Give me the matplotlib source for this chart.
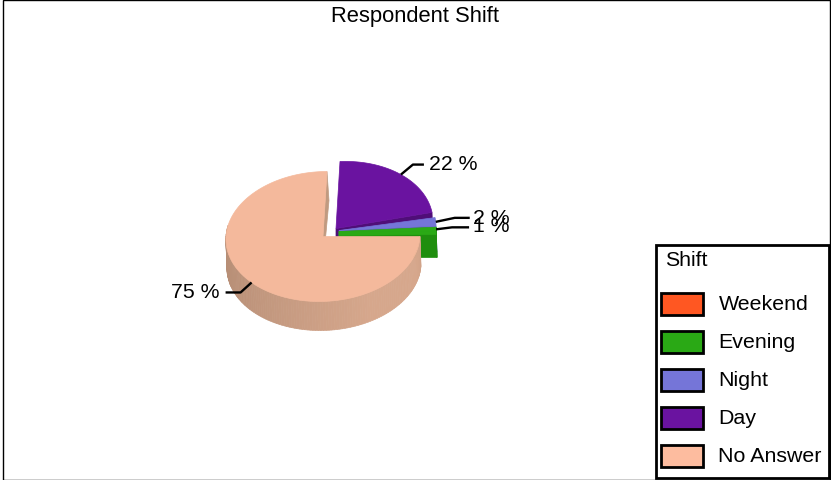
import numpy as np
import matplotlib
matplotlib.use('Agg')
import matplotlib.pyplot as plt
from matplotlib.patches import Polygon, Rectangle

plt.rcParams['font.family'] = ['Liberation Sans', 'DejaVu Sans']

title = 'Respondent Shift'
legend_title = 'Shift'
shifts = ['Weekend', 'Evening', 'Night', 'Day', 'No Answer']
percents = [0, 1, 2, 22, 75]
legend_colors = ['#ff5722', '#2aa915', '#7575d8', '#6a13a0', '#fdbc9f']
top_colors = ['#ff5722', '#2aa915', '#7575d8', '#6a13a0', '#f4b99c']
side_colors = ['#c9431a', '#1f8e0e', '#5a5ab0', '#4f0e78', '#c09a80']

# pie placement in pixels: centre x, centre y, rx, ry, depth, lift of the right side
place = {'Evening': (339, 232.5, 97, 69, 26, 0),
         'Night': (339, 231.5, 97, 69, 26, 0),
         'Day': (336, 229.5, 97, 67, 29, 3.6),
         'No Answer': (323, 237.5, 97, 65, 29, 0)}
skew = 4
# leader line: elbow offset from the rim, elbow length
leaders = {'Evening': (16, -2, 17), 'Night': (19, -4, 15),
           'Day': (12, -10, 11), 'No Answer': (-11, 10, -15)}
label_shift = {'Evening': (4, -2), 'Night': (3, 0), 'Day': (5, -1), 'No Answer': (-6, -1)}

fig = plt.figure(figsize=(8.31, 4.81), dpi=100)
ax = fig.add_axes([0, 0, 1, 1])
ax.set_xlim(0, 831)
ax.set_ylim(481, 0)
ax.axis('off')


def rim(name, t):
    cx, cy, rx, ry, d, lift = place[name]
    t = np.radians(t)
    return cx + rx*np.cos(t) + skew*np.sin(t), cy - ry*np.sin(t) - lift*np.cos(t)


def wedge(name, t0, t1):
    cx, cy = place[name][:2]
    ts = np.linspace(t0, t1, 200)
    x, y = rim(name, ts)
    return np.column_stack([np.r_[cx, x], np.r_[cy, y]])


def cut_face(name, t, color, z, bottom_dx=1):
    cx, cy, rx, ry, d, lift = place[name]
    x, y = rim(name, t)
    pts = [(cx, cy), (x, y), (x + bottom_dx, y + d), (cx, cy + d)]
    ax.add_patch(Polygon(pts, fc=color, ec=color, lw=0.5, zorder=z))


# slices run clockwise from 12 o'clock, Day first
order = ['Day', 'Night', 'Evening', 'Weekend', 'No Answer']
start = 90.0
z = 2
mids = {}
for name in order:
    i = shifts.index(name)
    sweep = percents[i]*3.6
    if sweep == 0:
        continue
    t1 = start
    t0 = start - sweep
    mids[name] = (t0 + t1)/2
    if name == 'No Answer':
        # cut face at 12 o'clock sticks out right of the top, then the shaded front wall
        cut_face(name, t0, side_colors[i], z, bottom_dx=2)
        ts = np.linspace(170, 360, 120)
        shade = np.interp(ts, [170, 210, 300, 345, 360], [0.0, 0.2, 1.0, 1.0, 0.85])
        dark = np.array(matplotlib.colors.to_rgb('#b48c74'))
        light = np.array(matplotlib.colors.to_rgb('#d6a78c'))
        d = place[name][4]
        x, y = rim(name, ts)
        for k in range(len(ts) - 1):
            c = dark + (light - dark)*shade[k]
            pts = [(x[k], y[k]), (x[k+1], y[k+1]), (x[k+1] + 1, y[k+1] + d), (x[k] + 1, y[k] + d)]
            ax.add_patch(Polygon(pts, fc=c, ec=c, lw=0.5, zorder=z))
    else:
        cut_face(name, t0, side_colors[i], z)
        if name == 'Evening':
            x, y = rim(name, np.array([t0, t1]))
            d = place[name][4]
            cx, cy = place[name][:2]
            pts = [(x[0], y[0]), (x[1], y[1]), (x[1] + 1, y[1] + d), (x[0] + 1, y[0] + d)]
            ax.add_patch(Polygon(pts, fc=side_colors[i], ec=side_colors[i], lw=0.5, zorder=z))
            # the light band along the lower edge of the thin slice
            band = [(cx, cy), (x[0], y[0]), (x[0], y[0] + 3), (cx, cy + 4)]
            ax.add_patch(Polygon(band, fc=top_colors[i], ec=top_colors[i], lw=0.5, zorder=z))
    ax.add_patch(Polygon(wedge(name, t0, t1), fc=top_colors[i], ec=top_colors[i], lw=0.5, zorder=z + 1))
    z += 2
    start = t0

# leader lines and percent labels
for name, mid in mids.items():
    i = shifts.index(name)
    x, y = rim(name, mid)
    dx, dy, run = leaders[name]
    ax.plot([x, x + dx, x + dx + run], [y, y + dy, y + dy], color='black', lw=1.7, zorder=20,
            solid_capstyle='butt')
    sx, sy = label_shift[name]
    ax.text(x + dx + run + sx, y + dy + sy, '%d %%' % percents[i], fontsize=15.3, va='center',
            ha='right' if run < 0 else 'left', color='black', zorder=21)

# outer frame and title
ax.add_patch(Rectangle((3, 0.5), 827, 480, fc='none', ec='black', lw=1, zorder=1))
ax.text(415, 16.5, title, fontsize=15.8, ha='center', va='center', color='black')

# legend box
ax.add_patch(Rectangle((656, 245.5), 173, 233.5, fc='white', ec='black', lw=2, zorder=30))
ax.text(665, 261, legend_title, fontsize=15.3, va='center', color='black', zorder=31)
for k, name in enumerate(shifts):
    ytop = 293.5 + 38*k
    ax.add_patch(Rectangle((660.5, ytop), 42, 22, fc=legend_colors[k], ec='black', lw=2, zorder=31))
    ax.text(718.5, ytop + 11, name, fontsize=15.4, va='center', color='black', zorder=31)

fig.savefig('out.png', dpi=100)
